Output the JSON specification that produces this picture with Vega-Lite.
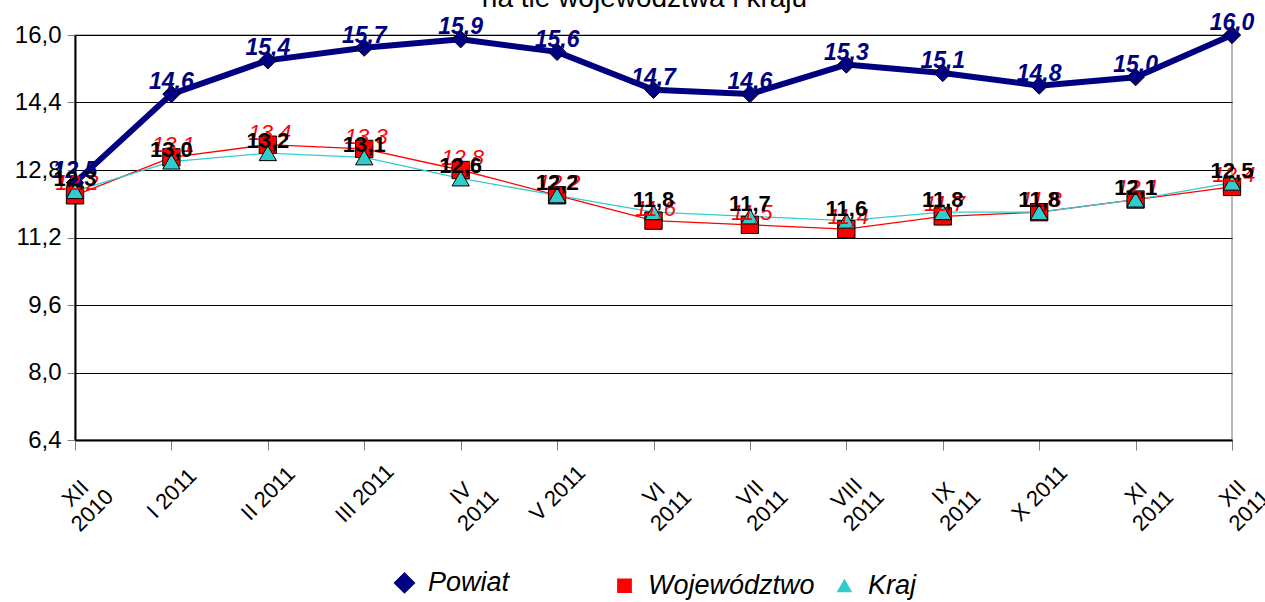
{
  "$schema": "https://vega.github.io/schema/vega-lite/v6.json",
  "width": 1265,
  "height": 602,
  "autosize": {"type": "fit", "contains": "padding"},
  "padding": {"left": 14, "top": -15, "right": -9, "bottom": 0},
  "background": "white",
  "title": {"text": "na tle województwa i kraju", "font": "Liberation Sans", "fontSize": 28, "fontWeight": "normal", "color": "black", "anchor": "middle", "baseline": "alphabetic", "offset": -23, "dx": -9},
  "config": {
    "locale": {"number": {"decimal": ",", "thousands": " ", "grouping": [3], "currency": ["", " zł"]}},
    "view": {"stroke": "#a0a0a0", "strokeWidth": 1.5},
    "font": "Liberation Sans",
    "axis": {"labelFont": "Liberation Sans", "labelColor": "black", "domainColor": "black", "tickColor": "#808080", "gridColor": "black", "gridWidth": 1, "tickSize": 8, "title": null},
    "legend": {"layout": {"bottom": {"anchor": "middle"}}}
  },
  "data": {"values": [
    {"m": "XII 2010", "s": "Powiat", "v": 12.5},
    {"m": "I 2011", "s": "Powiat", "v": 14.6},
    {"m": "II 2011", "s": "Powiat", "v": 15.4},
    {"m": "III 2011", "s": "Powiat", "v": 15.7},
    {"m": "IV 2011", "s": "Powiat", "v": 15.9},
    {"m": "V 2011", "s": "Powiat", "v": 15.6},
    {"m": "VI 2011", "s": "Powiat", "v": 14.7},
    {"m": "VII 2011", "s": "Powiat", "v": 14.6},
    {"m": "VIII 2011", "s": "Powiat", "v": 15.3},
    {"m": "IX 2011", "s": "Powiat", "v": 15.1},
    {"m": "X 2011", "s": "Powiat", "v": 14.8},
    {"m": "XI 2011", "s": "Powiat", "v": 15.0},
    {"m": "XII 2011", "s": "Powiat", "v": 16.0},
    {"m": "XII 2010", "s": "Województwo", "v": 12.2},
    {"m": "I 2011", "s": "Województwo", "v": 13.1},
    {"m": "II 2011", "s": "Województwo", "v": 13.4},
    {"m": "III 2011", "s": "Województwo", "v": 13.3},
    {"m": "IV 2011", "s": "Województwo", "v": 12.8},
    {"m": "V 2011", "s": "Województwo", "v": 12.2},
    {"m": "VI 2011", "s": "Województwo", "v": 11.6},
    {"m": "VII 2011", "s": "Województwo", "v": 11.5},
    {"m": "VIII 2011", "s": "Województwo", "v": 11.4},
    {"m": "IX 2011", "s": "Województwo", "v": 11.7},
    {"m": "X 2011", "s": "Województwo", "v": 11.8},
    {"m": "XI 2011", "s": "Województwo", "v": 12.1},
    {"m": "XII 2011", "s": "Województwo", "v": 12.4},
    {"m": "XII 2010", "s": "Kraj", "v": 12.3},
    {"m": "I 2011", "s": "Kraj", "v": 13.0},
    {"m": "II 2011", "s": "Kraj", "v": 13.2},
    {"m": "III 2011", "s": "Kraj", "v": 13.1},
    {"m": "IV 2011", "s": "Kraj", "v": 12.6},
    {"m": "V 2011", "s": "Kraj", "v": 12.2},
    {"m": "VI 2011", "s": "Kraj", "v": 11.8},
    {"m": "VII 2011", "s": "Kraj", "v": 11.7},
    {"m": "VIII 2011", "s": "Kraj", "v": 11.6},
    {"m": "IX 2011", "s": "Kraj", "v": 11.8},
    {"m": "X 2011", "s": "Kraj", "v": 11.8},
    {"m": "XI 2011", "s": "Kraj", "v": 12.1},
    {"m": "XII 2011", "s": "Kraj", "v": 12.5}
  ]},
  "encoding": {
    "x": {
      "field": "m", "type": "ordinal",
      "sort": ["XII 2010","I 2011","II 2011","III 2011","IV 2011","V 2011","VI 2011","VII 2011","VIII 2011","IX 2011","X 2011","XI 2011","XII 2011"],
      "scale": {"type": "point", "padding": 0},
      "axis": {
        "labelAngle": -45, "labelAlign": "center", "labelBaseline": "middle",
        "labelFontSize": 22, "labelPadding": 43, "domainWidth": 2, "tickSize": 10,
        "labelLineHeight": 24, "labelOverlap": false,
        "labelExpr": "indexof(['XII 2010','IV 2011','VI 2011','VII 2011','VIII 2011','IX 2011','XI 2011','XII 2011'], datum.label) >= 0 ? split(datum.label, ' ') : datum.label"
      }
    },
    "y": {
      "field": "v", "type": "quantitative",
      "scale": {"domain": [6.4, 16.0], "nice": false, "zero": false},
      "axis": {"values": [6.4, 8.0, 9.6, 11.2, 12.8, 14.4, 16.0], "format": ".1f", "labelFontSize": 24, "labelPadding": 6, "domainWidth": 2, "grid": true}
    },
    "color": {"field": "s", "type": "nominal", "scale": {"domain": ["Powiat", "Województwo", "Kraj"], "range": ["#000080", "#ff0000", "#33cccc"]},
      "legend": {"title": null, "orient": "bottom", "offset": 33, "direction": "horizontal", "columns": 3, "gridAlign": "all", "columnPadding": 16, "labelFontSize": 27, "labelFontStyle": "italic", "labelFont": "Liberation Sans", "labelColor": "black", "labelLimit": 400, "symbolSize": 180, "labelOffset": 10, "symbolStrokeColor": "black", "symbolStrokeWidth": 1}}
  },
  "layer": [
    {
      "mark": {"type": "line"},
      "encoding": {
        "strokeWidth": {"field": "s", "type": "ordinal", "scale": {"type": "ordinal", "domain": ["Powiat", "Województwo", "Kraj"], "range": [6, 1.3, 1.3]}, "legend": null}
      }
    },
    {
      "mark": {"type": "point", "filled": true, "opacity": 1, "stroke": "black", "strokeWidth": 1, "size": 300},
      "encoding": {
        "shape": {"field": "s", "type": "nominal", "scale": {"domain": ["Powiat", "Województwo", "Kraj"], "range": ["diamond", "square", "triangle-up"]}}
      }
    },
    {
      "transform": [{"filter": {"field": "s", "equal": "Powiat"}}],
      "mark": {"type": "text", "font": "Liberation Sans", "fontSize": 23, "fontWeight": "bold", "fontStyle": "italic", "baseline": "alphabetic", "dy": -5},
      "encoding": {"color": {"value": "#000080"}, "text": {"field": "v", "type": "quantitative", "format": ".1f"}}
    },
    {
      "transform": [{"filter": {"field": "s", "equal": "Województwo"}}],
      "mark": {"type": "text", "font": "Liberation Sans", "fontSize": 22, "fontStyle": "italic", "baseline": "alphabetic", "dy": -5, "dx": 2},
      "encoding": {"color": {"value": "#ff0000"}, "text": {"field": "v", "type": "quantitative", "format": ".1f"}}
    },
    {
      "transform": [{"filter": {"field": "s", "equal": "Kraj"}}],
      "mark": {"type": "text", "font": "Liberation Sans", "fontSize": 22, "fontWeight": "bold", "baseline": "alphabetic", "dy": -5},
      "encoding": {"color": {"value": "black"}, "text": {"field": "v", "type": "quantitative", "format": ".1f"}}
    }
  ]
}
